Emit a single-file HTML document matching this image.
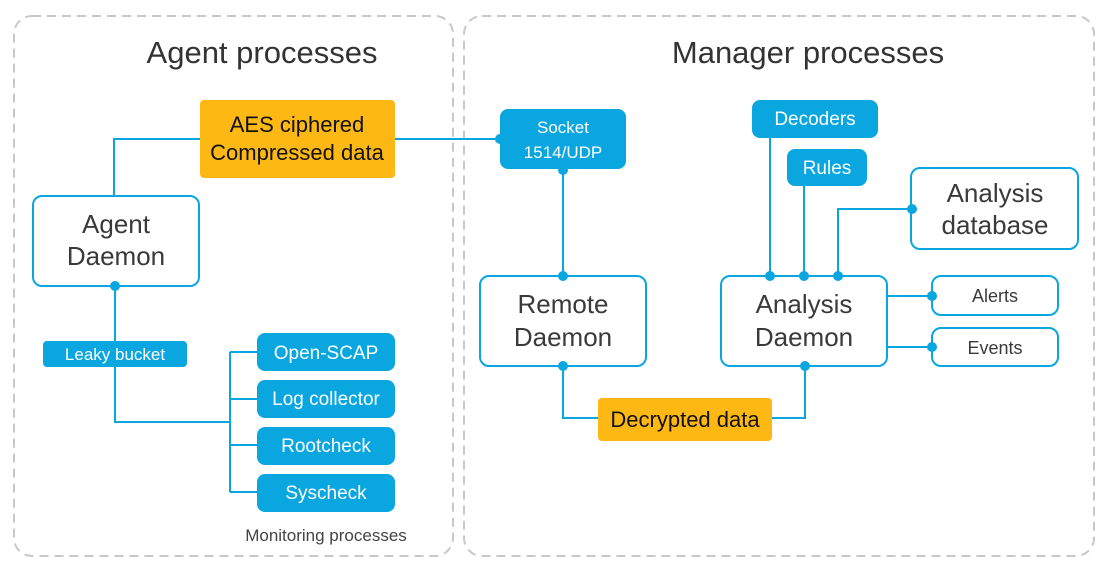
<!DOCTYPE html>
<html><head><meta charset="utf-8"><style>
html,body{margin:0;padding:0;background:#fff;width:1106px;height:577px;overflow:hidden}
svg text{font-family:"Liberation Sans",sans-serif}
</style></head><body>
<svg width="1106" height="577" viewBox="0 0 1106 577" xmlns="http://www.w3.org/2000/svg">
<g fill="none" stroke="#c8c8c8" stroke-width="2" stroke-dasharray="9,6">
<rect x="14" y="16" width="439" height="540" rx="18"/>
<rect x="464" y="16" width="630" height="540" rx="18"/>
</g>
<g fill="#333" text-anchor="middle">
<text x="262" y="63" font-size="31">Agent processes</text>
<text x="808" y="63" font-size="31">Manager processes</text>
<text x="326" y="541" font-size="17" fill="#444">Monitoring processes</text>
</g>
<g fill="none" stroke="#0aa6e0" stroke-width="2">
<polyline points="200,139 114,139 114,196"/>
<line x1="395" y1="139" x2="500" y2="139"/>
<polyline points="115,286 115,422 230,422"/>
<line x1="230" y1="352" x2="230" y2="492"/>
<line x1="230" y1="352" x2="257" y2="352"/>
<line x1="230" y1="399" x2="257" y2="399"/>
<line x1="230" y1="445" x2="257" y2="445"/>
<line x1="230" y1="492" x2="257" y2="492"/>
<line x1="563" y1="170" x2="563" y2="276"/>
<polyline points="563,366 563,418 598,418"/>
<polyline points="772,418 805,418 805,366"/>
<line x1="770" y1="138" x2="770" y2="276"/>
<line x1="804" y1="186" x2="804" y2="276"/>
<polyline points="912,209 838,209 838,276"/>
<line x1="887" y1="296" x2="932" y2="296"/>
<line x1="887" y1="347" x2="932" y2="347"/>
<rect x="33" y="196" width="166" height="90" rx="9" fill="#fff"/>
<rect x="480" y="276" width="166" height="90" rx="9" fill="#fff"/>
<rect x="721" y="276" width="166" height="90" rx="9" fill="#fff"/>
<rect x="911" y="168" width="167" height="81" rx="9" fill="#fff"/>
<rect x="932" y="276" width="126" height="39" rx="9" fill="#fff"/>
<rect x="932" y="328" width="126" height="38" rx="9" fill="#fff"/>
</g>
<g fill="#fdb813">
<rect x="200" y="100" width="195" height="78" rx="4"/>
<rect x="598" y="398" width="174" height="43" rx="4"/>
</g>
<g fill="#0aa6e0">
<rect x="500" y="109" width="126" height="60" rx="8"/>
<rect x="43" y="341" width="144" height="26" rx="4"/>
<rect x="257" y="333" width="138" height="38" rx="8"/>
<rect x="257" y="380" width="138" height="38" rx="8"/>
<rect x="257" y="427" width="138" height="38" rx="8"/>
<rect x="257" y="474" width="138" height="38" rx="8"/>
<rect x="752" y="100" width="126" height="38" rx="8"/>
<rect x="787" y="149" width="80" height="37" rx="8"/>
<circle cx="500" cy="139" r="5"/>
<circle cx="115" cy="286" r="5"/>
<circle cx="563" cy="170" r="5"/>
<circle cx="563" cy="276" r="5"/>
<circle cx="563" cy="366" r="5"/>
<circle cx="805" cy="366" r="5"/>
<circle cx="770" cy="276" r="5"/>
<circle cx="804" cy="276" r="5"/>
<circle cx="838" cy="276" r="5"/>
<circle cx="912" cy="209" r="5"/>
<circle cx="932" cy="296" r="5"/>
<circle cx="932" cy="347" r="5"/>
</g>
<g text-anchor="middle" fill="#111" font-size="22">
<text x="297" y="132">AES ciphered</text>
<text x="297" y="160">Compressed data</text>
<text x="685" y="427">Decrypted data</text>
</g>
<g text-anchor="middle" fill="#fff">
<text x="563" y="133" font-size="17">Socket</text>
<text x="563" y="158" font-size="17">1514/UDP</text>
<text x="115" y="360" font-size="17">Leaky bucket</text>
<text x="326" y="359" font-size="19">Open-SCAP</text>
<text x="326" y="405" font-size="19">Log collector</text>
<text x="326" y="452" font-size="19">Rootcheck</text>
<text x="326" y="499" font-size="19">Syscheck</text>
<text x="815" y="125" font-size="19">Decoders</text>
<text x="827" y="174" font-size="19">Rules</text>
</g>
<g text-anchor="middle" fill="#3a3a3a">
<text x="116" y="233" font-size="26">Agent</text>
<text x="116" y="265" font-size="26">Daemon</text>
<text x="563" y="313" font-size="26">Remote</text>
<text x="563" y="346" font-size="26">Daemon</text>
<text x="804" y="313" font-size="26">Analysis</text>
<text x="804" y="346" font-size="26">Daemon</text>
<text x="995" y="202" font-size="26">Analysis</text>
<text x="995" y="234" font-size="26">database</text>
<text x="995" y="302" font-size="18">Alerts</text>
<text x="995" y="354" font-size="18">Events</text>
</g>
</svg>
</body></html>
